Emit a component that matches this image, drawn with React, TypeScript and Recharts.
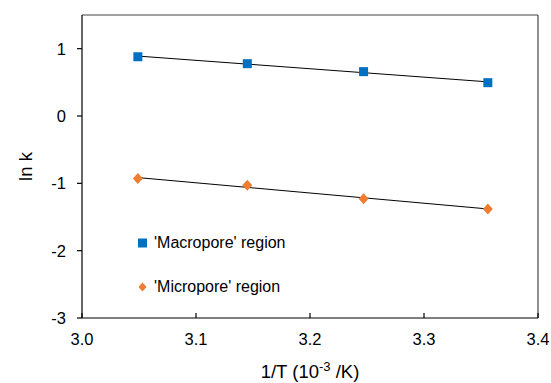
import React from "react";
import { ScatterChart, Scatter, XAxis, YAxis, ReferenceLine, Label } from "recharts";

const invT = [3.049, 3.145, 3.247, 3.356];
const macroLnK = [0.88, 0.777, 0.659, 0.495];
const microLnK = [-0.93, -1.03, -1.23, -1.38];

const xTicks = [3.0, 3.1, 3.2, 3.3, 3.4];
const yTicks = [-3, -2, -1, 0, 1];

const BLUE = "#0070C0";
const ORANGE = "#ED7D31";
const FONT = "'Liberation Sans', Arial, sans-serif";

const toPoints = (ys: number[]) => invT.map((x, i) => ({ x, y: ys[i] }));

// least-squares trendline between first and last x
function fitLine(ys: number[]) {
  const n = invT.length;
  const mx = invT.reduce((a, b) => a + b, 0) / n;
  const my = ys.reduce((a, b) => a + b, 0) / n;
  let sxy = 0;
  let sxx = 0;
  invT.forEach((x, i) => {
    sxy += (x - mx) * (ys[i] - my);
    sxx += (x - mx) * (x - mx);
  });
  const slope = sxy / sxx;
  const ends = [invT[0], invT[n - 1]];
  return ends.map((x) => ({ x, y: my + slope * (x - mx) }));
}

const macroData = toPoints(macroLnK);
const microData = toPoints(microLnK);
const macroFit = fitLine(macroLnK);
const microFit = fitLine(microLnK);

const Square = (props: any) => (
  <rect x={props.cx - 4.5} y={props.cy - 4.5} width={9} height={9} fill={BLUE} />
);

const Diamond = (props: any) => (
  <polygon
    points={`${props.cx},${props.cy - 5.5} ${props.cx + 5},${props.cy} ${props.cx},${props.cy + 5.5} ${props.cx - 5},${props.cy}`}
    fill={ORANGE}
  />
);

const NoShape = () => null;

const InwardTick = (props: any) => {
  const { x, y, payload } = props;
  const axisY = y - 5 - 10;
  return (
    <g>
      <line x1={x} x2={x} y1={axisY} y2={axisY - 5} stroke="#000" strokeWidth={1.2} />
      <text x={x} y={y} dy="0.71em" textAnchor="middle" fill="#000" fontSize={16.5} fontFamily={FONT}>
        {Number(payload.value).toFixed(1)}
      </text>
    </g>
  );
};

const XTitle = (props: any) => {
  const { viewBox } = props;
  const cx = viewBox.x + viewBox.width / 2;
  return (
    <text x={cx} y={viewBox.y + 60} textAnchor="middle" fontSize={18.5} fontFamily={FONT} fill="#000">
      1/T (10
      <tspan dy={-7} fontSize={13}>-3</tspan>
      <tspan dy={7}> /K)</tspan>
    </text>
  );
};

export default function App() {
  return (
    <div style={{ position: "absolute", left: 0, top: 0, width: 551, height: 383, background: "#fff" }}>
      <ScatterChart width={551} height={383} margin={{ top: 15, right: 13, bottom: 25, left: 32 }}>
        <XAxis
          type="number"
          dataKey="x"
          domain={[3.0, 3.4]}
          ticks={xTicks}
          interval={0}
          tickSize={5}
          tickMargin={10}
          tickLine={false}
          tick={<InwardTick />}
          height={40}
          stroke="#000"
          strokeWidth={1.2}
        >
          <Label content={<XTitle />} />
        </XAxis>
        <YAxis
          type="number"
          dataKey="y"
          domain={[-3, 1.5]}
          ticks={yTicks}
          interval={0}
          width={50}
          tickSize={5}
          tickMargin={11}
          stroke="#000"
          strokeWidth={1.2}
          tick={{ fill: "#000", fontSize: 16.5, fontFamily: FONT }}
        >
          <Label
            value="ln k"
            angle={-90}
            position="insideLeft"
            offset={0}
            dx={-7}
            style={{ fontSize: 18.5, fontFamily: FONT, fill: "#000", textAnchor: "middle" }}
          />
        </YAxis>
        <ReferenceLine y={1.5} stroke="#444" strokeWidth={1.2} />
        <ReferenceLine x={3.4} stroke="#444" strokeWidth={1.2} />
        <Scatter data={macroFit} line={{ stroke: "#000", strokeWidth: 1 }} shape={<NoShape />} isAnimationActive={false} />
        <Scatter data={microFit} line={{ stroke: "#000", strokeWidth: 1 }} shape={<NoShape />} isAnimationActive={false} />
        <Scatter data={macroData} shape={<Square />} isAnimationActive={false} />
        <Scatter data={microData} shape={<Diamond />} isAnimationActive={false} />
      </ScatterChart>
      <div style={{ position: "absolute", left: 137, top: 232, fontFamily: FONT, fontSize: 16, color: "#000" }}>
        <div style={{ display: "flex", alignItems: "center", height: 22 }}>
          <svg width={17} height={12}>
            <rect x={1} y={1.5} width={9} height={9} fill={BLUE} />
          </svg>
          <span>'Macropore' region</span>
        </div>
        <div style={{ display: "flex", alignItems: "center", height: 22, marginTop: 22 }}>
          <svg width={17} height={12}>
            <polygon points="5.5,1.5 9.5,6 5.5,10.5 1.5,6" fill={ORANGE} />
          </svg>
          <span>'Micropore' region</span>
        </div>
      </div>
    </div>
  );
}
